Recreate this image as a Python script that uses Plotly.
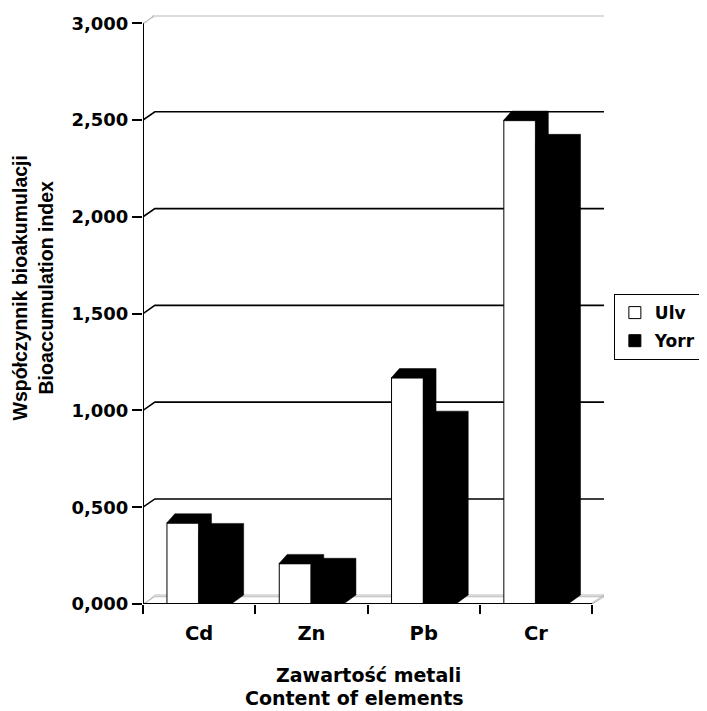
import plotly.graph_objects as go

# ---------------- data ----------------
categories = ["Cd", "Zn", "Pb", "Cr"]
series_names = ["Ulv", "Yorr"]
ulv_values = [0.42, 0.21, 1.17, 2.50]
yorr_values = [0.37, 0.19, 0.95, 2.38]
series_colors = ["#ffffff", "#000000"]
y_ticks = [0.0, 0.5, 1.0, 1.5, 2.0, 2.5, 3.0]
y_title_lines = ["Współczynnik bioakumulacji", "Bioaccumulation index"]
x_title_lines = ["Zawartość metali", "Content of elements"]

# ---------------- layout geometry (page pixels) ----------------
PAGE_W, PAGE_H = 707, 711
BODY = 8                                  # default body margin of the html page
W, H = PAGE_W - BODY, PAGE_H - BODY
P_LEFT, P_RIGHT, P_TOP, P_BOTTOM = 143, 610, 13, 604   # plot area in page pixels
ML, MT = P_LEFT - BODY, P_TOP - BODY
MR, MB = PAGE_W - P_RIGHT, PAGE_H - P_BOTTOM
PW, PH = P_RIGHT - P_LEFT, P_BOTTOM - P_TOP

DX_BACK, DY_BACK = 12.0, 8.3              # back-wall offset of the pseudo-3D box (px)
BAR_DXL, BAR_DXR, BAR_DY = 8.0, 12.5, 9.0  # bar depth offsets (px)

n = len(categories)
ymax = y_ticks[-1]
cat_px = (PW - DX_BACK) / n
y_px = (PH - DY_BACK) / ymax
x_range = [-0.5, n - 0.5 + DX_BACK / cat_px]
y_range = [0, ymax + DY_BACK / y_px]


def dxu(p):
    return p / cat_px


def dyu(p):
    return p / y_px


def paper_x(px):
    return (px - P_LEFT) / PW


def paper_y(py):
    return (P_BOTTOM - py) / PH


GAP = 0.4268
bar_w = (1 - GAP) / 2

TICK_FONT = "DejaVu Sans"
fig = go.Figure()

values = [ulv_values, yorr_values]
for j, (name, vals, col) in enumerate(zip(series_names, values, series_colors)):
    fig.add_trace(go.Bar(
        x=categories, y=vals, name=name, legendgroup=name,
        marker=dict(color=col, line=dict(color="black", width=1)),
        xaxis="x", yaxis="y",
    ))

# top + side faces (pseudo 3D), computed from the values
OV = 0.7  # small overlap (px) onto the front face to avoid anti-alias seams
for j, vals in enumerate(values):
    for i, v in enumerate(vals):
        c = i + (j - 0.5) * bar_w
        x0, x1 = c - bar_w / 2, c + bar_w / 2
        xi = x1 - dxu(OV)
        vi = v - dyu(OV)
        xs = [x0, x0 + dxu(BAR_DXL), x1 + dxu(BAR_DXR), x1 + dxu(BAR_DXR), x1, xi, xi, x0, x0]
        ys = [v, v + dyu(BAR_DY), v + dyu(BAR_DY), dyu(BAR_DY), 0, 0, vi, vi, v]
        fig.add_trace(go.Scatter(
            x=xs, y=ys, mode="lines", fill="toself", fillcolor="black",
            line=dict(color="black", width=0.5), showlegend=False,
            hoverinfo="skip", xaxis="x2", yaxis="y",
        ))

shapes = []
# back-wall gridlines with slanted connectors
for v in y_ticks[1:-1]:
    shapes.append(dict(
        type="path", xref="x2", yref="y", layer="below",
        path=f"M {-0.5},{v} L {-0.5 + dxu(DX_BACK)},{v + dyu(DY_BACK)} L {x_range[1]},{v + dyu(DY_BACK)}",
        line=dict(color="black", width=1.6),
    ))
# floor and wall top: light double lines
for v in (y_ticks[0], y_ticks[-1]):
    for off in (0.0, 1.7):
        shapes.append(dict(
            type="path", xref="x2", yref="y", layer="below",
            path=(f"M {-0.5 + dxu(off)},{v} L {-0.5 + dxu(DX_BACK)},{v + dyu(DY_BACK - 1 + off)} "
                  f"L {x_range[1]},{v + dyu(DY_BACK - 1 + off)}"),
            line=dict(color="#b8b8b8", width=1),
        ))
for off in (0.0, 1.7):
    shapes.append(dict(
        type="path", xref="x2", yref="y", layer="below",
        path=f"M {n - 0.5 - dxu(off)},{0} L {x_range[1]},{dyu(DY_BACK - 1 + off)}",
        line=dict(color="#b8b8b8", width=1),
    ))
# front axis lines
shapes.append(dict(type="line", xref="x2", yref="y", layer="above",
                   x0=-0.5, x1=n - 0.5, y0=0, y1=0, line=dict(color="black", width=2)))
shapes.append(dict(type="line", xref="x2", yref="y", layer="above",
                   x0=-0.5, x1=-0.5, y0=0, y1=ymax, line=dict(color="black", width=2)))

annotations = [
    dict(text="<br>".join(y_title_lines), textangle=-90, xref="paper", yref="paper",
         x=paper_x(31), y=paper_y(287), xanchor="center", yanchor="middle",
         showarrow=False, font=dict(family="Liberation Sans, Arial", size=19.5, color="black", weight="bold")),
    dict(text=x_title_lines[0], xref="paper", yref="paper",
         x=paper_x(371), y=paper_y(675), xanchor="center", yanchor="middle",
         showarrow=False, font=dict(family=TICK_FONT, size=19, color="black", weight="bold")),
    dict(text=x_title_lines[1], xref="paper", yref="paper",
         x=paper_x(357), y=paper_y(698), xanchor="center", yanchor="middle",
         showarrow=False, font=dict(family=TICK_FONT, size=19, color="black", weight="bold")),
]

fig.update_layout(
    width=W, height=H,
    margin=dict(l=ML, r=MR, t=MT, b=MB, pad=0),
    paper_bgcolor="white", plot_bgcolor="white",
    barmode="group", bargap=GAP, bargroupgap=0,
    separators=", ",
    xaxis=dict(
        type="category", categoryarray=categories, range=x_range,
        showgrid=False, zeroline=False, showline=False,
        ticks="outside", tickson="boundaries", ticklen=9, tickwidth=2, tickcolor="black",
        tickfont=dict(family=TICK_FONT, size=19.5, color="black", weight="bold"),
        ticklabelstandoff=15,
    ),
    xaxis2=dict(overlaying="x", range=x_range, visible=False, showgrid=False, zeroline=False),
    yaxis=dict(
        range=y_range, tickvals=y_ticks, tickformat=".3f",
        showgrid=False, zeroline=False, showline=False,
        ticks="outside", ticklen=10, tickwidth=2, tickcolor="black",
        tickfont=dict(family=TICK_FONT, size=18, color="black", weight="bold"),
    ),
    legend=dict(
        x=paper_x(620), y=paper_y(293), xanchor="left", yanchor="top",
        bordercolor="black", borderwidth=1, bgcolor="white",
        font=dict(family=TICK_FONT, size=17, color="black", weight="bold"),
        itemwidth=30, tracegroupgap=3, traceorder="grouped",
    ),
    shapes=shapes,
    annotations=annotations,
)

fig.write_html("out.html")
